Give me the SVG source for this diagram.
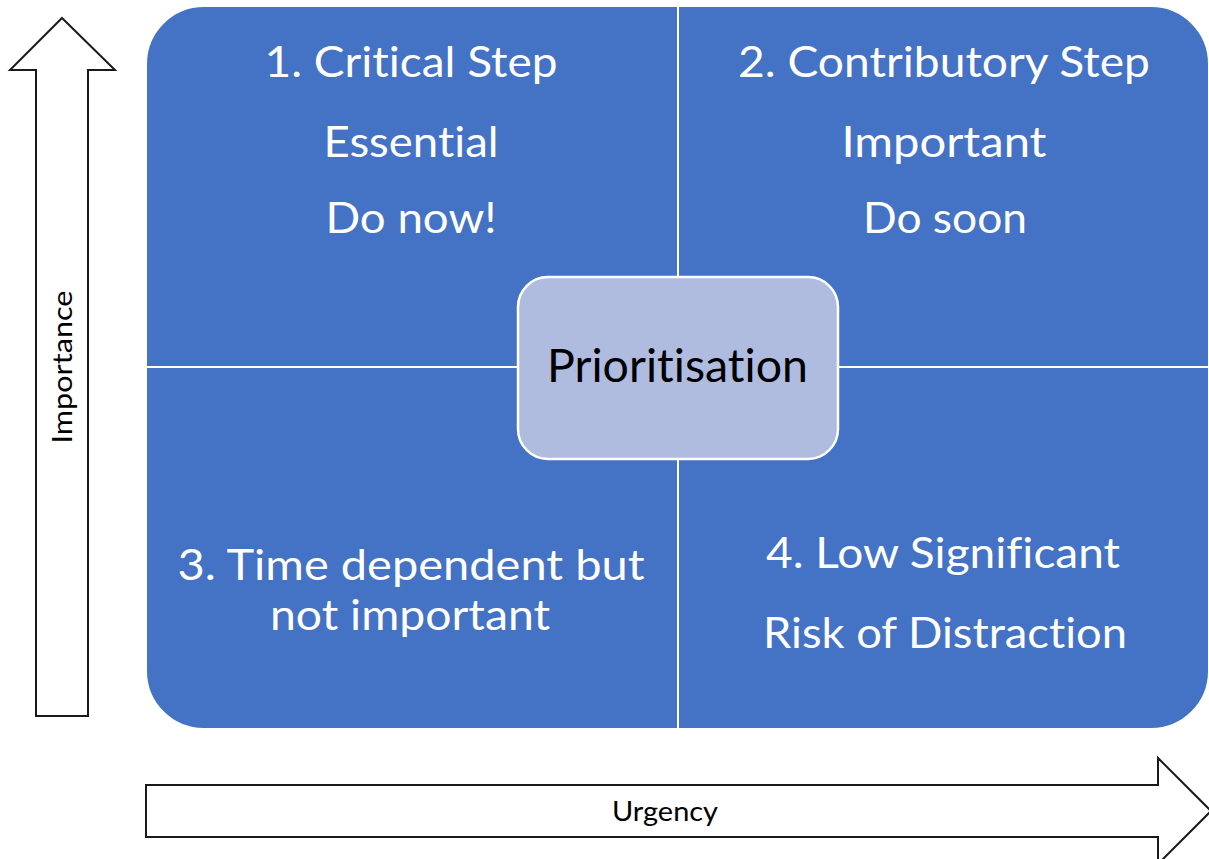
<svg xmlns="http://www.w3.org/2000/svg" width="1209" height="859" viewBox="0 0 1209 859">
  <style>
    text { font-variant-ligatures: none; font-feature-settings: "liga" 0; }
    .quad { fill: #4472C4; stroke: #FFFFFF; stroke-width: 2; }
    .qt { font-family: Lato, "Open Sans", "Liberation Sans", sans-serif; font-size: 42px; fill: #FFFFFF; text-anchor: middle; }
    .center { fill: #AFBCE0; stroke: #FFFFFF; stroke-width: 2.5; }
    .ct { font-family: Lato, "Open Sans", "Liberation Sans", sans-serif; font-size: 46px; fill: #000000; text-anchor: middle; }
    .axis { fill: #FFFFFF; stroke: #1A1A1A; stroke-width: 2; stroke-linejoin: miter; }
    .at { font-family: Lato, "Open Sans", "Liberation Sans", sans-serif; font-size: 26px; fill: #000000; text-anchor: middle; }
  </style>
  <rect width="1209" height="859" fill="#FFFFFF"/>

  <g id="quadrant-1">
    <path class="quad" d="M146,64 A58,58 0 0 1 204,6 L678,6 L678,367 L146,367 Z"/>
    <text class="qt" x="411" y="77" textLength="293" lengthAdjust="spacingAndGlyphs">1. Critical Step</text>
    <text class="qt" x="411" y="157" textLength="175" lengthAdjust="spacingAndGlyphs">Essential</text>
    <text class="qt" x="411" y="233" textLength="171" lengthAdjust="spacingAndGlyphs">Do now!</text>
  </g>
  <g id="quadrant-2">
    <path class="quad" d="M678,6 L1151,6 A58,58 0 0 1 1209,64 L1209,367 L678,367 Z"/>
    <text class="qt" x="944" y="77" textLength="412" lengthAdjust="spacingAndGlyphs">2. Contributory Step</text>
    <text class="qt" x="944" y="157" textLength="205" lengthAdjust="spacingAndGlyphs">Important</text>
    <text class="qt" x="945" y="233" textLength="164" lengthAdjust="spacingAndGlyphs">Do soon</text>
  </g>
  <g id="quadrant-3">
    <path class="quad" d="M146,367 L678,367 L678,729 L204,729 A58,58 0 0 1 146,671 Z"/>
    <text class="qt" x="411" y="580" textLength="467" lengthAdjust="spacingAndGlyphs">3. Time dependent but</text>
    <text class="qt" x="410" y="630" textLength="280" lengthAdjust="spacingAndGlyphs">not important</text>
  </g>
  <g id="quadrant-4">
    <path class="quad" d="M678,367 L1209,367 L1209,671 A58,58 0 0 1 1151,729 L678,729 Z"/>
    <text class="qt" x="943" y="568" textLength="354" lengthAdjust="spacingAndGlyphs">4. Low Significant</text>
    <text class="qt" x="945" y="648" textLength="364" lengthAdjust="spacingAndGlyphs">Risk of Distraction</text>
  </g>

  <g id="prioritisation">
    <rect class="center" x="518" y="277" width="320" height="182" rx="30" ry="30"/>
    <text class="ct" x="677.5" y="382" textLength="261" lengthAdjust="spacingAndGlyphs">Prioritisation</text>
  </g>

  <g id="connectors">
    <g id="importance-axis">
      <path class="axis" d="M62,18 L115,70 L88,70 L88,716 L36,716 L36,70 L10,70 Z"/>
      <text class="at" transform="translate(72,367) rotate(-90)" x="0" y="0" textLength="153" lengthAdjust="spacingAndGlyphs">Importance</text>
    </g>
    <g id="urgency-axis">
      <path class="axis" d="M146,785 L1158,785 L1158,758 L1211,811 L1158,864 L1158,837 L146,837 Z"/>
      <text class="at" x="665" y="821" textLength="106" lengthAdjust="spacingAndGlyphs">Urgency</text>
    </g>
  </g>
</svg>
